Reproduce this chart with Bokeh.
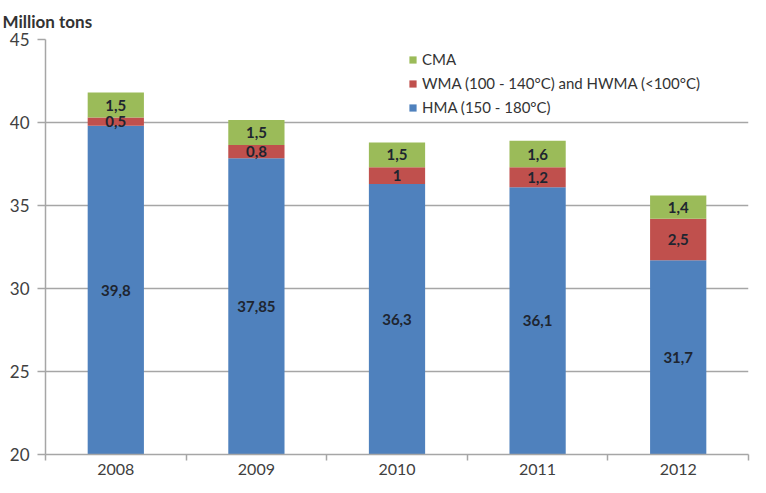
from bokeh.plotting import figure
from bokeh.models import (ColumnDataSource, Range1d, FixedTicker, Legend, LegendItem)
from bokeh.core.properties import value
from bokeh.embed import file_html
from bokeh.resources import INLINE

years = ["2008", "2009", "2010", "2011", "2012"]
hma = [39.8, 37.85, 36.3, 36.1, 31.7]
wma = [0.5, 0.8, 1.0, 1.2, 2.5]
cma = [1.5, 1.5, 1.5, 1.6, 1.4]
series_names = ["HMA (150 - 180°C)", "WMA (100 - 140°C) and HWMA (<100°C)", "CMA"]
colors = ["#4F81BD", "#C0504D", "#9BBB59"]
y_ticks = [20, 25, 30, 35, 40, 45]
y_min, y_max = 20, 45

FONT = "Lato"

xs = list(range(1, len(years) + 1))
src = ColumnDataSource(dict(x=xs, hma=hma, wma=wma, cma=cma))

p = figure(width=750, height=477, output_backend="svg", toolbar_location=None,
           x_range=Range1d(0.5, len(years) + 0.5), y_range=Range1d(y_min, y_max),
           min_border_left=45, min_border_right=2, min_border_top=37, min_border_bottom=10)
p.outline_line_color = None
p.background_fill_color = "white"

p.title.text = "Million tons"
p.title.text_font = FONT
p.title.text_font_style = "bold"
p.title.text_font_size = "17px"
p.title.text_color = "#333333"
p.title.align = "left"
p.title.offset = -43
p.title.standoff = 16

rs = p.vbar_stack(["hma", "wma", "cma"], x="x", width=0.4, source=src,
                  color=colors, line_color=None)

# value labels
def fmt(v):
    return f"{v:g}".replace(".", ",")

lx, ly, lt = [], [], []
for i, x in enumerate(xs):
    h, w, c = hma[i], wma[i], cma[i]
    lx += [x, x, x]
    ly += [(y_min + h) / 2, h + w / 2, h + w + c / 2]
    lt += [fmt(h), fmt(w), fmt(c)]
lsrc = ColumnDataSource(dict(x=lx, y=ly, t=lt))
p.text(x="x", y="y", text="t", source=lsrc, text_align="center", text_baseline="middle",
       text_font=value(FONT), text_font_style="bold", text_font_size="15px",
       text_color="#1e2530")

# axes
p.xgrid.grid_line_color = None
p.ygrid.grid_line_color = "#a6a6a6"
p.ygrid.grid_line_width = 1.5
p.ygrid.ticker = FixedTicker(ticks=y_ticks)

p.yaxis.ticker = FixedTicker(ticks=y_ticks, minor_ticks=[])
p.yaxis.axis_line_color = "#a6a6a6"
p.yaxis.axis_line_width = 1.5
p.yaxis.major_tick_line_color = "#a6a6a6"
p.yaxis.major_tick_line_width = 1.5
p.yaxis.major_tick_out = 8
p.yaxis.major_tick_in = 0
p.yaxis.minor_tick_line_color = None
p.yaxis.major_label_standoff = 8
p.yaxis.major_label_text_font = FONT
p.yaxis.major_label_text_font_size = "17px"
p.yaxis.major_label_text_color = "#404040"

p.xaxis.ticker = FixedTicker(ticks=xs, minor_ticks=[x + 0.5 for x in range(0, len(years) + 1)])
p.xaxis.major_label_overrides = {x: y for x, y in zip(xs, years)}
p.xaxis.axis_line_color = "#a6a6a6"
p.xaxis.axis_line_width = 1.5
p.xaxis.major_tick_line_color = None
p.xaxis.major_tick_out = 0
p.xaxis.major_tick_in = 0
p.xaxis.minor_tick_line_color = "#a6a6a6"
p.xaxis.minor_tick_line_width = 1.5
p.xaxis.minor_tick_out = 6
p.xaxis.minor_tick_in = 0
p.xaxis.major_label_standoff = 3
p.xaxis.major_label_text_font = FONT
p.xaxis.major_label_text_font_size = "16px"
p.xaxis.major_label_text_color = "#404040"

# legend
items = [LegendItem(label=series_names[2], renderers=[rs[2]]),
         LegendItem(label=series_names[1], renderers=[rs[1]]),
         LegendItem(label=series_names[0], renderers=[rs[0]])]
legend = Legend(items=items, location=(363, 337), orientation="vertical",
                glyph_width=9, glyph_height=9, label_height=20, spacing=4,
                padding=0, margin=0, label_standoff=5,
                label_text_font=FONT, label_text_font_size="15px", label_text_color="#333333",
                border_line_color=None, background_fill_alpha=0)
p.add_layout(legend)

open("out.html", "w").write(file_html(p, INLINE))
